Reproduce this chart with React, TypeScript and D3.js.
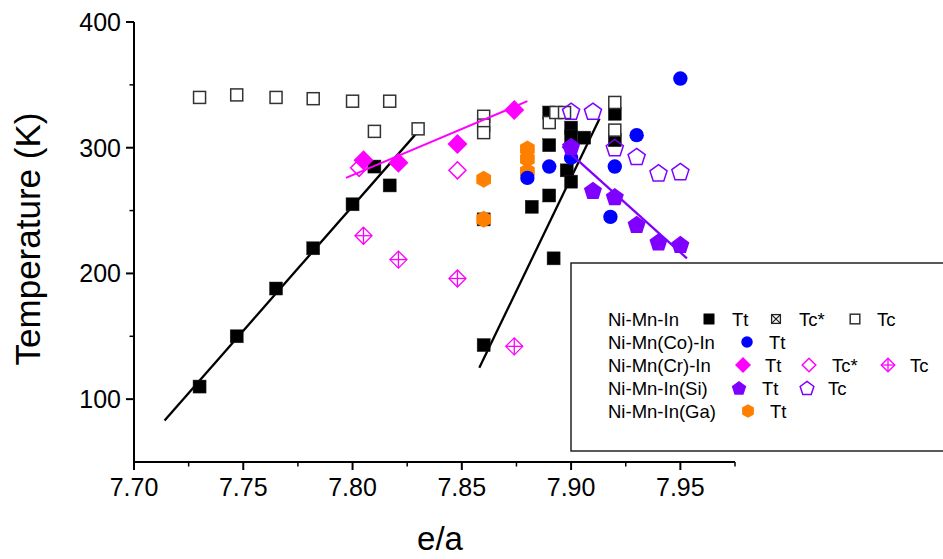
import React from 'react';
import * as d3 from 'd3';

// Axis ticks
const xMajor = [7.7, 7.75, 7.8, 7.85, 7.9, 7.95];
const xMinor = [7.725, 7.775, 7.825, 7.875, 7.925, 7.975];
const yMajor = [100, 200, 300, 400];
const yMinor = [150, 250, 350];

// Ni-Mn-In
const inTt: [number, number][] = [
  [7.73, 110], [7.747, 150], [7.765, 188], [7.782, 220], [7.8, 255], [7.81, 285], [7.817, 270],
  [7.86, 243], [7.86, 143], [7.882, 253], [7.89, 328], [7.89, 302], [7.89, 262], [7.892, 212],
  [7.898, 282], [7.9, 273], [7.9, 316], [7.9, 309], [7.906, 308], [7.92, 327], [7.92, 306],
];
const inTc: [number, number][] = [
  [7.73, 340], [7.747, 342], [7.765, 340], [7.782, 339], [7.8, 337], [7.817, 337], [7.81, 313],
  [7.83, 315], [7.86, 325], [7.86, 318], [7.86, 312], [7.89, 320], [7.893, 328], [7.897, 328],
  [7.92, 336], [7.92, 314],
];
// Ni-Mn(Co)-In
const coTt: [number, number][] = [
  [7.88, 276], [7.89, 285], [7.9, 292], [7.918, 245], [7.92, 285], [7.93, 310], [7.95, 355],
];
// Ni-Mn(Cr)-In
const crTt: [number, number][] = [[7.805, 290], [7.821, 288], [7.848, 303], [7.874, 330]];
const crTcStar: [number, number][] = [[7.803, 284], [7.848, 282]];
const crTc: [number, number][] = [[7.805, 230], [7.821, 211], [7.848, 196], [7.874, 142]];
// Ni-Mn-In(Si)
const siTt: [number, number][] = [[7.9, 301], [7.91, 266], [7.92, 261], [7.93, 239], [7.94, 225], [7.95, 223]];
const siTc: [number, number][] = [[7.9, 329], [7.91, 329], [7.92, 300], [7.93, 293], [7.94, 280], [7.95, 281]];
// Ni-Mn-In(Ga)
const gaTt: [number, number][] = [[7.86, 275], [7.86, 243], [7.88, 299], [7.88, 291], [7.88, 281]];

// Fit lines
const lineLeft: [number, number][] = [[7.714, 83], [7.83, 313]];
const lineRight: [number, number][] = [[7.858, 125], [7.913, 323]];
const lineCr: [number, number][] = [[7.797, 276], [7.88, 337]];
const lineSi: [number, number][] = [[7.896, 301], [7.953, 212]];

const W = 943;
const H = 559;
const FONT = '"Liberation Sans", Arial, sans-serif';

const BLACK = '#000000';
const BLUE = '#0000FF';
const MAGENTA = '#FF00FF';
const PURPLE = '#8000FF';
const ORANGE = '#FF8000';

const x = d3.scaleLinear().domain([7.7, 7.975]).range([134, 735]);
const y = d3.scaleLinear().domain([50, 400]).range([462, 22]);
const line = d3.line<[number, number]>().x(d => x(d[0])).y(d => y(d[1]));

function polygon(cx: number, cy: number, r: number, n: number, start: number) {
  const pts: string[] = [];
  for (let k = 0; k < n; k++) {
    const a = (start + (k * 360) / n) * Math.PI / 180;
    pts.push(`${cx + r * Math.cos(a)},${cy + r * Math.sin(a)}`);
  }
  return pts.join(' ');
}

type M = { cx: number; cy: number; s?: number };

const FilledSquare = ({ cx, cy, s = 1 }: M) => (
  <rect x={cx - 6.5 * s} y={cy - 6.5 * s} width={13 * s} height={13 * s} fill={BLACK} stroke="#222" strokeWidth={0.5} />
);
const OpenSquare = ({ cx, cy, s = 1 }: M) => (
  <rect x={cx - 6 * s} y={cy - 6 * s} width={12 * s} height={12 * s} fill="#fff" stroke="#333" strokeWidth={1.5} />
);
const XSquare = ({ cx, cy, s = 1 }: M) => (
  <g stroke="#222" strokeWidth={1.3} fill="#fff">
    <rect x={cx - 5.5 * s} y={cy - 5.5 * s} width={11 * s} height={11 * s} />
    <line x1={cx - 5.5 * s} y1={cy - 5.5 * s} x2={cx + 5.5 * s} y2={cy + 5.5 * s} />
    <line x1={cx - 5.5 * s} y1={cy + 5.5 * s} x2={cx + 5.5 * s} y2={cy - 5.5 * s} />
  </g>
);
const Circle = ({ cx, cy, s = 1 }: M) => <circle cx={cx} cy={cy} r={7.2 * s} fill={BLUE} />;
const FilledDiamond = ({ cx, cy, s = 1 }: M) => (
  <polygon points={polygon(cx, cy, 10 * s, 4, -90)} fill={MAGENTA} />
);
const OpenDiamond = ({ cx, cy, s = 1 }: M) => (
  <polygon points={polygon(cx, cy, 8.5 * s, 4, -90)} fill="#fff" stroke={MAGENTA} strokeWidth={1.5} />
);
const CrossDiamond = ({ cx, cy, s = 1 }: M) => (
  <g stroke={MAGENTA} strokeWidth={1.3} fill="none">
    <polygon points={polygon(cx, cy, 8.5 * s, 4, -90)} />
    <line x1={cx - 8.5 * s} y1={cy} x2={cx + 8.5 * s} y2={cy} />
    <line x1={cx} y1={cy - 8.5 * s} x2={cx} y2={cy + 8.5 * s} />
  </g>
);
const FilledPent = ({ cx, cy, s = 1 }: M) => (
  <polygon points={polygon(cx, cy + 0.8 * s, 9.5 * s, 5, -90)} fill={PURPLE} />
);
const OpenPent = ({ cx, cy, s = 1 }: M) => (
  <polygon points={polygon(cx, cy + 0.8 * s, 9 * s, 5, -90)} fill="none" stroke={PURPLE} strokeWidth={1.5} />
);
const Hex = ({ cx, cy, s = 1 }: M) => (
  <polygon points={polygon(cx, cy, 8.5 * s, 6, -90)} fill={ORANGE} />
);

const legendRows: { label: string; items: { sym: (p: M) => JSX.Element; text: string; mx: number; tx: number }[] }[] = [
  {
    label: 'Ni-Mn-In',
    items: [
      { sym: FilledSquare, text: 'Tt', mx: 709, tx: 732 },
      { sym: XSquare, text: 'Tc*', mx: 776, tx: 799 },
      { sym: OpenSquare, text: 'Tc', mx: 855, tx: 877 },
    ],
  },
  { label: 'Ni-Mn(Co)-In', items: [{ sym: Circle, text: 'Tt', mx: 747, tx: 769 }] },
  {
    label: 'Ni-Mn(Cr)-In',
    items: [
      { sym: FilledDiamond, text: 'Tt', mx: 743, tx: 765 },
      { sym: OpenDiamond, text: 'Tc*', mx: 809, tx: 832 },
      { sym: CrossDiamond, text: 'Tc', mx: 888, tx: 910 },
    ],
  },
  {
    label: 'Ni-Mn-In(Si)',
    items: [
      { sym: FilledPent, text: 'Tt', mx: 739, tx: 762 },
      { sym: OpenPent, text: 'Tc', mx: 807, tx: 828 },
    ],
  },
  { label: 'Ni-Mn-In(Ga)', items: [{ sym: Hex, text: 'Tt', mx: 748, tx: 770 }] },
];
const legendRowY = [319, 342, 365, 388, 411];

export default function App() {
  return (
    <svg width={W} height={H} style={{ position: 'absolute', left: 0, top: 0, background: '#fff' }}
      fontFamily={FONT}>
      <rect x={0} y={0} width={W} height={H} fill="#fff" />

      {/* Legend box */}
      <rect x={571} y={263} width={400} height={188} fill="#fff" stroke="#222" strokeWidth={1.5} />
      {legendRows.map((row, i) => (
        <g key={row.label}>
          <text x={608} y={legendRowY[i] + 6.5} fontSize={18.5} fill="#000">{row.label}</text>
          {row.items.map(it => (
            <g key={it.text + it.mx}>
              {it.sym({ cx: it.mx, cy: legendRowY[i], s: 0.8 })}
              <text x={it.tx} y={legendRowY[i] + 6.5} fontSize={18.5} fill="#000">{it.text}</text>
            </g>
          ))}
        </g>
      ))}

      {/* Fit lines */}
      <path d={line(lineLeft) || ''} stroke={BLACK} strokeWidth={2.3} fill="none" />
      <path d={line(lineRight) || ''} stroke={BLACK} strokeWidth={2.3} fill="none" />

      {/* Series */}
      {inTt.map((d, i) => <FilledSquare key={'a' + i} cx={x(d[0])} cy={y(d[1])} />)}
      {inTc.map((d, i) => <OpenSquare key={'b' + i} cx={x(d[0])} cy={y(d[1])} />)}
      {crTcStar.map((d, i) => <OpenDiamond key={'d' + i} cx={x(d[0])} cy={y(d[1])} />)}
      {crTt.map((d, i) => <FilledDiamond key={'c' + i} cx={x(d[0])} cy={y(d[1])} />)}
      {crTc.map((d, i) => <CrossDiamond key={'e' + i} cx={x(d[0])} cy={y(d[1])} />)}
      {gaTt.map((d, i) => <Hex key={'g' + i} cx={x(d[0])} cy={y(d[1])} />)}
      {coTt.map((d, i) => <Circle key={'f' + i} cx={x(d[0])} cy={y(d[1])} />)}
      {siTt.map((d, i) => <FilledPent key={'h' + i} cx={x(d[0])} cy={y(d[1])} />)}
      {siTc.map((d, i) => <OpenPent key={'k' + i} cx={x(d[0])} cy={y(d[1])} />)}

      <path d={line(lineCr) || ''} stroke={MAGENTA} strokeWidth={2} fill="none" />
      <path d={line(lineSi) || ''} stroke={PURPLE} strokeWidth={2.3} fill="none" />

      {/* Axes */}
      <line x1={x(7.7)} y1={y(50)} x2={x(7.975)} y2={y(50)} stroke="#000" strokeWidth={2} />
      <line x1={x(7.7)} y1={y(50) + 1} x2={x(7.7)} y2={y(400)} stroke="#000" strokeWidth={2} />
      {xMajor.map(v => (
        <g key={'xm' + v}>
          <line x1={x(v)} y1={y(50)} x2={x(v)} y2={y(50) + 8} stroke="#000" strokeWidth={2} />
          <text x={x(v)} y={y(50) + 34} fontSize={25} textAnchor="middle" fill="#000">{v.toFixed(2)}</text>
        </g>
      ))}
      {xMinor.map(v => (
        <line key={'xn' + v} x1={x(v)} y1={y(50)} x2={x(v)} y2={y(50) + 4.5} stroke="#000" strokeWidth={1.5} />
      ))}
      {yMajor.map(v => (
        <g key={'ym' + v}>
          <line x1={x(7.7)} y1={y(v)} x2={x(7.7) - 8} y2={y(v)} stroke="#000" strokeWidth={2} />
          <text x={x(7.7) - 13} y={y(v) + 9} fontSize={25} textAnchor="end" fill="#000">{v}</text>
        </g>
      ))}
      {yMinor.map(v => (
        <line key={'yn' + v} x1={x(7.7)} y1={y(v)} x2={x(7.7) - 4.5} y2={y(v)} stroke="#000" strokeWidth={1.5} />
      ))}

      <text x={440} y={550} fontSize={33} textAnchor="middle" fill="#000">e/a</text>
      <text transform={`translate(40,239) rotate(-90)`} fontSize={35} textAnchor="middle" fill="#000">
        Temperature (K)
      </text>
    </svg>
  );
}
